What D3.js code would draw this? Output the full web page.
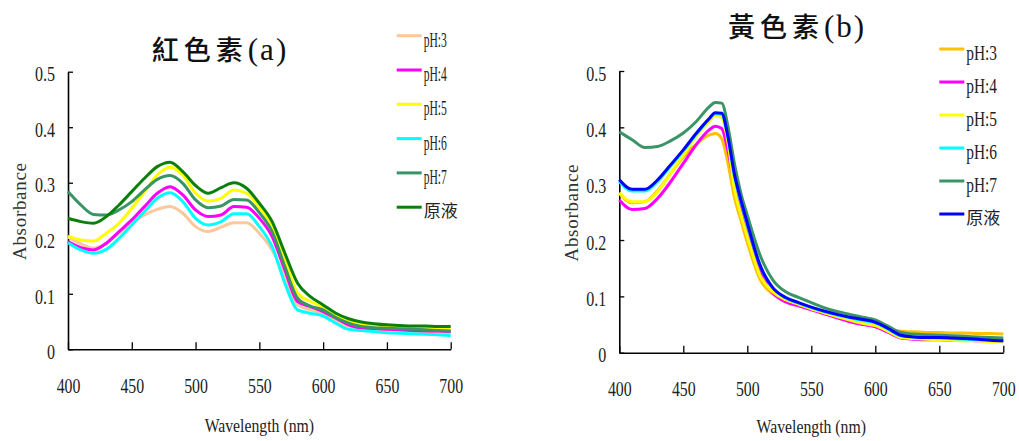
<!DOCTYPE html>
<html><head><meta charset="utf-8">
<script src="https://cdn.jsdelivr.net/npm/d3@7"></script>
<style>body{margin:0;background:#fff}svg{display:block}</style>
</head><body>
<svg id="chart" width="1019" height="441"></svg>
<script>
// ---------- data ----------
const seriesNames = ["pH:3", "pH:4", "pH:5", "pH:6", "pH:7", "原液"];
const xTickValues = [400, 450, 500, 550, 600, 650, 700];
const yTickValues = [0, 0.1, 0.2, 0.3, 0.4, 0.5];

const titleA = "紅色素", titleATag = "(a)";
const titleB = "黃色素", titleBTag = "(b)";
const xLabel = "Wavelength (nm)";
const yLabel = "Absorbance";

const wavelengthsA = [400,410,420,430,440,450,460,470,480,490,500,510,520,530,540,550,560,570,580,590,600,610,620,630,640,650,660,670,680,690,700];
const redPH3   = [0.202,0.190,0.182,0.191,0.209,0.227,0.242,0.252,0.257,0.245,0.221,0.212,0.220,0.228,0.228,0.209,0.179,0.131,0.080,0.071,0.065,0.053,0.042,0.039,0.037,0.035,0.034,0.033,0.032,0.031,0.030];
const redPH4   = [0.194,0.183,0.179,0.191,0.212,0.233,0.257,0.281,0.293,0.278,0.251,0.239,0.242,0.257,0.256,0.236,0.203,0.143,0.086,0.077,0.068,0.056,0.044,0.038,0.037,0.036,0.035,0.034,0.033,0.033,0.032];
const redPH5   = [0.204,0.197,0.195,0.209,0.227,0.254,0.284,0.314,0.328,0.314,0.281,0.267,0.272,0.287,0.281,0.255,0.221,0.161,0.101,0.086,0.076,0.062,0.050,0.045,0.044,0.042,0.041,0.040,0.039,0.039,0.038];
const redPH6   = [0.192,0.179,0.173,0.180,0.200,0.224,0.248,0.272,0.282,0.266,0.236,0.224,0.230,0.244,0.244,0.221,0.185,0.119,0.071,0.065,0.060,0.047,0.036,0.034,0.032,0.030,0.029,0.028,0.027,0.026,0.025];
const redPH7   = [0.284,0.260,0.243,0.242,0.251,0.266,0.287,0.306,0.313,0.299,0.269,0.255,0.258,0.270,0.269,0.246,0.212,0.149,0.092,0.078,0.071,0.057,0.047,0.041,0.039,0.038,0.037,0.036,0.035,0.034,0.033];
const redStock = [0.236,0.230,0.227,0.239,0.260,0.284,0.308,0.329,0.337,0.320,0.295,0.281,0.291,0.300,0.290,0.263,0.230,0.173,0.119,0.095,0.080,0.065,0.055,0.049,0.046,0.044,0.043,0.042,0.042,0.041,0.041];

const wavelengthsB = [400,410,420,430,440,450,460,470,475,480,485,490,495,500,510,520,530,540,550,560,570,580,590,600,610,620,630,640,650,660,670,680,690,700];
const yelPH3   = [0.283,0.266,0.268,0.288,0.318,0.347,0.370,0.386,0.389,0.380,0.335,0.275,0.235,0.196,0.130,0.104,0.093,0.086,0.078,0.070,0.064,0.058,0.052,0.049,0.042,0.038,0.037,0.036,0.036,0.035,0.035,0.034,0.034,0.033];
const yelPH4   = [0.271,0.254,0.256,0.274,0.303,0.336,0.369,0.395,0.402,0.398,0.357,0.300,0.259,0.218,0.143,0.106,0.090,0.083,0.076,0.069,0.062,0.055,0.050,0.046,0.036,0.026,0.024,0.023,0.023,0.022,0.022,0.021,0.021,0.021];
const yelPH5   = [0.284,0.268,0.268,0.286,0.318,0.351,0.384,0.410,0.421,0.418,0.372,0.290,0.245,0.206,0.137,0.108,0.094,0.086,0.078,0.071,0.064,0.058,0.052,0.048,0.038,0.027,0.025,0.024,0.023,0.022,0.021,0.021,0.020,0.019];
const yelPH6   = [0.304,0.287,0.287,0.304,0.331,0.358,0.387,0.414,0.424,0.423,0.380,0.313,0.268,0.227,0.155,0.115,0.097,0.088,0.080,0.073,0.067,0.062,0.057,0.053,0.042,0.030,0.028,0.027,0.026,0.025,0.024,0.023,0.022,0.021];
const yelPH7   = [0.392,0.378,0.364,0.366,0.376,0.390,0.410,0.436,0.444,0.443,0.400,0.335,0.283,0.244,0.173,0.129,0.108,0.098,0.089,0.080,0.073,0.068,0.063,0.058,0.047,0.036,0.033,0.032,0.031,0.030,0.029,0.028,0.027,0.026];
const yelStock = [0.307,0.290,0.290,0.307,0.333,0.360,0.389,0.415,0.426,0.425,0.382,0.316,0.271,0.230,0.155,0.115,0.098,0.089,0.081,0.074,0.068,0.063,0.059,0.054,0.043,0.031,0.028,0.027,0.027,0.026,0.025,0.024,0.022,0.021];

const colorsA = ["#FCC79A", "#FF00FF", "#FFFF00", "#00FFFF", "#3A9466", "#0A7F0A"];
const colorsB = ["#FFC000", "#FF00FF", "#FFFF00", "#00FFFF", "#3A9466", "#0000FF"];

// ---------- drawing ----------
const svg = d3.select("#chart");
const SERIF = "'Liberation Serif','Times New Roman',serif";
const CJK = "'Noto Sans CJK TC','Noto Sans CJK SC',sans-serif";

// horizontally condense a text around its anchor x (the reference font is narrow)
function condense(sel, k) {
  sel.each(function () {
    const ax = +(this.getAttribute("x") || 0);
    const prev = this.getAttribute("transform") || "";
    this.setAttribute("transform", `${prev} translate(${ax},0) scale(${k},1) translate(${-ax},0)`.trim());
  });
}

function drawPanel(cfg) {
  const x = d3.scaleLinear().domain([400, 700]).range([cfg.x0, cfg.x1]);
  const y = d3.scaleLinear().domain([0, 0.5]).range([cfg.y0, cfg.y1]);
  const g = svg.append("g");

  // axes
  const xAxis = g.append("g").attr("transform", `translate(0,${cfg.y0})`)
    .call(d3.axisBottom(x).tickValues(xTickValues).tickSize(-7).tickSizeOuter(0).tickPadding(28).tickFormat(d3.format("d")));
  const yAxis = g.append("g").attr("transform", `translate(${cfg.x0},0)`)
    .call(d3.axisLeft(y).tickValues(yTickValues).tickSize(-5).tickSizeOuter(0).tickPadding(13)
      .tickFormat(d => d === 0 ? "0" : d3.format(".1f")(d)));
  [xAxis, yAxis].forEach(a => {
    a.select(".domain").attr("stroke", "#000").attr("stroke-width", 1.6);
    a.selectAll(".tick line").attr("stroke", "#000").attr("stroke-width", 1.3);
    a.selectAll(".tick text").attr("font-family", SERIF).attr("font-size", 22).attr("fill", "#222");
  });
  yAxis.selectAll(".tick text").attr("dy", "0.42em");
  condense(xAxis.selectAll(".tick text"), 0.72);
  condense(yAxis.selectAll(".tick text"), 0.73);

  // lines
  const line = d3.line().x(d => x(d[0])).y(d => y(d[1])).curve(d3.curveMonotoneX);
  cfg.series.forEach((vals, i) => {
    const pts = cfg.wl.map((w, j) => [w, vals[j]]);
    g.append("path").datum(pts).attr("d", line).attr("fill", "none")
      .attr("stroke", cfg.colors[i]).attr("stroke-width", 3).attr("stroke-linejoin", "round");
  });

  // title
  const t = g.append("text").attr("x", cfg.titleX).attr("y", cfg.titleY).attr("text-anchor", "middle").attr("fill", "#111");
  t.append("tspan").attr("font-family", CJK).attr("font-size", 27).attr("font-weight", 500).attr("letter-spacing", 5).text(cfg.title);
  t.append("tspan").attr("font-family", SERIF).attr("font-size", 31).attr("letter-spacing", 2).text(cfg.tag);

  // x label
  const xl = g.append("text").attr("x", (cfg.x0 + cfg.x1) / 2).attr("y", cfg.xLabelY).attr("text-anchor", "middle")
    .attr("font-family", SERIF).attr("font-size", 19).attr("fill", "#222").text(xLabel);
  condense(xl, 0.83);

  // y label
  g.append("text").attr("transform", `translate(${cfg.yLabelX},${cfg.yLabelY}) rotate(-90)`)
    .attr("text-anchor", "middle").attr("font-family", SERIF).attr("font-size", 19).attr("fill", "#333")
    .attr("textLength", 97).attr("lengthAdjust", "spacing").text(yLabel);

  // legend
  seriesNames.forEach((name, i) => {
    const ly = cfg.legY + i * cfg.legDy;
    g.append("line").attr("x1", cfg.legX).attr("x2", cfg.legX + 25).attr("y1", ly).attr("y2", ly)
      .attr("stroke", cfg.colors[i]).attr("stroke-width", 3);
    const isCJK = /[\u4e00-\u9fff]/.test(name);
    const tx = g.append("text").attr("x", cfg.legX + 27).attr("y", ly + (isCJK ? 9.5 : 11))
      .attr("font-family", isCJK ? CJK : SERIF).attr("font-size", isCJK ? 17 : 20).attr("fill", "#222").text(name);
    if (!isCJK) condense(tx, cfg.legK);
  });
}

drawPanel({
  x0: 68, x1: 450.7, y0: 349.3, y1: 71.7,
  wl: wavelengthsA, series: [redPH3, redPH4, redPH5, redPH6, redPH7, redStock], colors: colorsA,
  title: titleA, tag: titleATag, titleX: 220, titleY: 60,
  xLabelY: 432, yLabelX: 26, yLabelY: 211.5,
  legX: 396.7, legY: 35.7, legDy: 34.3, legK: 0.58
});
drawPanel({
  x0: 619.3, x1: 1003.3, y0: 352.7, y1: 71,
  wl: wavelengthsB, series: [yelPH3, yelPH4, yelPH5, yelPH6, yelPH7, yelStock], colors: colorsB,
  title: titleB, tag: titleBTag, titleX: 797, titleY: 37,
  xLabelY: 433, yLabelX: 578, yLabelY: 213,
  legX: 939.3, legY: 49, legDy: 33, legK: 0.77
});
</script>
</body></html>
